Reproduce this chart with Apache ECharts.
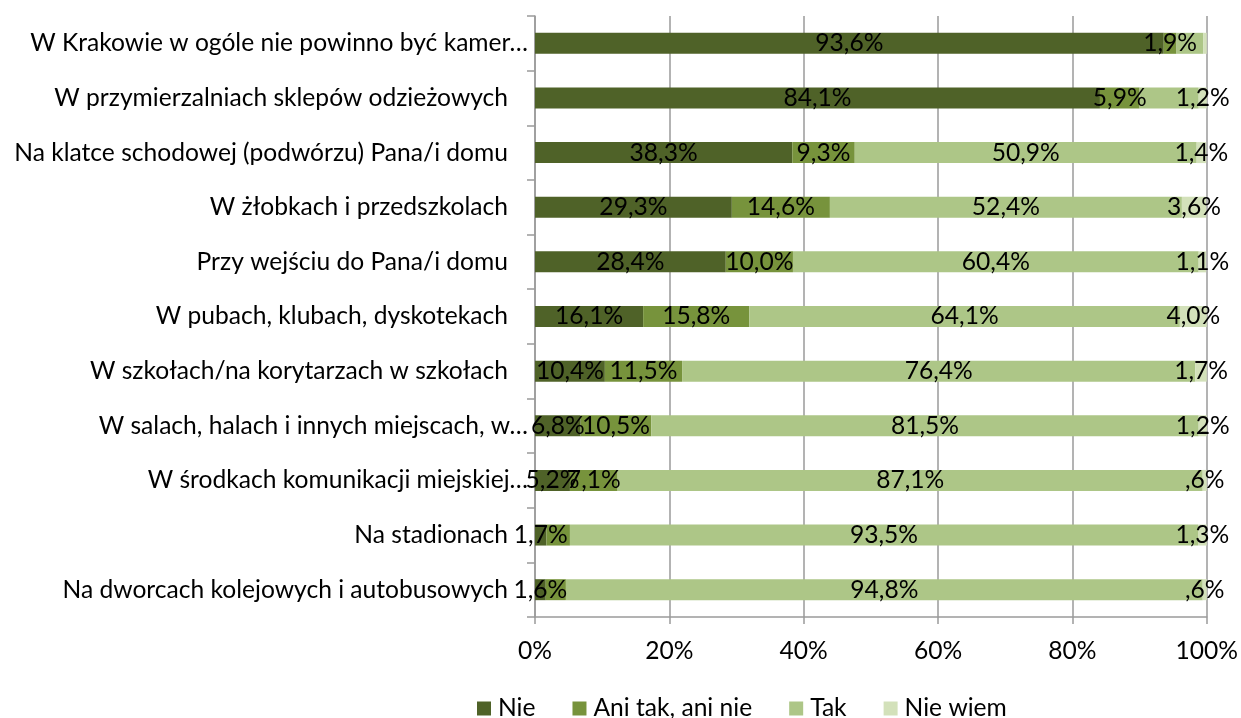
<!DOCTYPE html>
<html>
<head>
<meta charset="utf-8">
<script src="https://cdn.jsdelivr.net/npm/echarts@6/dist/echarts.min.js"></script>
<style>
  html, body { margin: 0; padding: 0; background: #fff; }
  #graph { width: 1241px; height: 718px; }
</style>
</head>
<body>
<div id="graph"></div>
<script>
  var myChart = echarts.init(document.getElementById('graph'));
  // kategorie, od góry do dołu
  var catName = [
    "W Krakowie w ogóle nie powinno być kamer…",
    "W przymierzalniach sklepów odzieżowych",
    "Na klatce schodowej (podwórzu) Pana/i domu",
    "W żłobkach i przedszkolach",
    "Przy wejściu do Pana/i domu",
    "W pubach, klubach, dyskotekach",
    "W szkołach/na korytarzach w szkołach",
    "W salach, halach i innych miejscach, w…",
    "W środkach komunikacji miejskiej…",
    "Na stadionach",
    "Na dworcach kolejowych i autobusowych"
  ];
  var seriesNames = ["Nie", "Ani tak, ani nie", "Tak", "Nie wiem"];
  var nie     = [93.6, 84.1, 38.3, 29.3, 28.4, 16.1, 10.4, 6.8, 5.2, 1.7, 1.6];
  var ani     = [1.9, 5.9, 9.3, 14.6, 10.0, 15.8, 11.5, 10.5, 7.1, 3.5, 3.0];
  var tak     = [4.0, 8.8, 50.9, 52.4, 60.4, 64.1, 76.4, 81.5, 87.1, 93.5, 94.8];
  var nieWiem = [0.5, 1.2, 1.4, 3.6, 1.1, 4.0, 1.7, 1.2, 0.6, 1.3, 0.6];
  // etykiety, których nie ma na wykresie (indeksy kategorii)
  var hiddenLabels = [[], [9, 10], [0, 1], [0]];
  var xTicks = [0, 20, 40, 60, 80, 100];
  var colors = ["#4f6228", "#77933c", "#adc687", "#d3e1ba"];

  var allData = [nie, ani, tak, nieWiem];
  var font = "Lato";
  var fs = 24.6;

  function fmt(v) {
    var s = v.toFixed(1).replace(".", ",");
    if (s.indexOf("0,") === 0) s = s.substring(1);
    return s + "%";
  }

  var series = seriesNames.map(function (name, k) {
    return {
      name: name,
      type: "bar",
      stack: "total",
      barWidth: 21,
      itemStyle: { color: colors[k] },
      label: {
        show: true,
        position: "inside",
        color: "#000",
        fontFamily: font,
        fontSize: fs,
        formatter: function (p) { return fmt(p.value); }
      },
      data: allData[k].map(function (v, i) {
        if (hiddenLabels[k].indexOf(i) >= 0) {
          return { value: v, label: { show: false } };
        }
        return v;
      })
    };
  });

  var option = {
    animation: false,
    color: colors,
    grid: { left: 535, right: 32, top: 16, bottom: 101, containLabel: false },
    legend: {
      data: seriesNames,
      left: 472,
      top: 691,
      icon: "rect",
      itemWidth: 14,
      itemHeight: 14,
      itemGap: 37,
      textStyle: { fontFamily: font, fontSize: fs, color: "#000", padding: [0, 0, 0, 2] }
    },
    xAxis: {
      type: "value",
      min: xTicks[0],
      max: xTicks[xTicks.length - 1],
      interval: 20,
      axisLine: { show: true, lineStyle: { color: "#9a9a9a", width: 1.5 } },
      axisTick: { show: true, length: 7, lineStyle: { color: "#9a9a9a", width: 1.5 } },
      splitLine: { show: true, lineStyle: { color: "#9a9a9a", width: 1.5 } },
      axisLabel: {
        margin: 22,
        fontFamily: font,
        fontSize: fs,
        color: "#000",
        formatter: "{value}%"
      }
    },
    yAxis: {
      type: "category",
      data: catName,
      inverse: true,
      axisLine: { show: true, lineStyle: { color: "#9a9a9a", width: 1.5 } },
      axisTick: { show: true, length: 8, lineStyle: { color: "#9a9a9a", width: 1.5 } },
      axisLabel: {
        margin: 7,
        fontFamily: font,
        fontSize: fs,
        color: "#000",
        // skrócone etykiety (z wielokropkiem) sięgają dalej w prawo, jak w Excelu
        formatter: function (v) {
          if (v.charAt(v.length - 1) === "…") return v;
          return "{p|" + v + "}";
        },
        rich: {
          p: { padding: [0, 20, 0, 0], fontFamily: font, fontSize: fs, color: "#000" }
        }
      }
    },
    series: series
  };
  myChart.setOption(option);
</script>
</body>
</html>
